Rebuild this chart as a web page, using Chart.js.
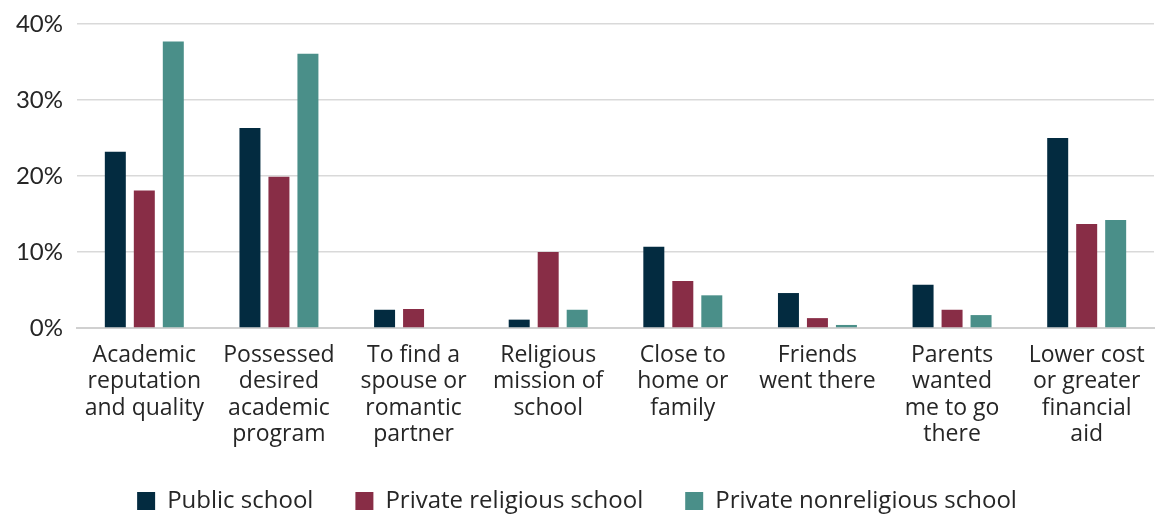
<!DOCTYPE html>
<html>
<head>
<meta charset="utf-8">
<script src="https://cdn.jsdelivr.net/npm/chart.js@4/dist/chart.umd.min.js"></script>
<style>
  html, body { margin: 0; padding: 0; background: #fff; }
  #wrap { width: 1167px; height: 514px; position: relative; }
</style>
</head>
<body>
<div id="wrap"><canvas id="schoolChart"></canvas></div>
<script>
const categories = [
    ["Academic", "reputation", "and quality"],
    ["Possessed", "desired", "academic", "program"],
    ["To find a", "spouse or", "romantic", "partner"],
    ["Religious", "mission of", "school"],
    ["Close to", "home or", "family"],
    ["Friends", "went there"],
    ["Parents", "wanted", "me to go", "there"],
    ["Lower cost", "or greater", "financial", "aid"]
];

const publicSchool = [23.2, 26.3, 2.4, 1.1, 10.7, 4.6, 5.7, 25.0];
const privateReligious = [18.1, 19.9, 2.5, 10.0, 6.2, 1.3, 2.4, 13.7];
const privateNonreligious = [37.7, 36.1, 0, 2.4, 4.3, 0.4, 1.7, 14.2];

const yTicks = [0, 10, 20, 30, 40];

new Chart(document.getElementById("schoolChart"), {
    type: "bar",
    data: {
        labels: categories,
        datasets: [
            { label: "Public school", data: publicSchool, backgroundColor: "#032b40" },
            { label: "Private religious school", data: privateReligious, backgroundColor: "#882d46" },
            { label: "Private nonreligious school", data: privateNonreligious, backgroundColor: "#4a8f89" }
        ]
    },
    options: {
        responsive: true,
        maintainAspectRatio: false,
        animation: false,
        layout: { padding: { left: 0, right: 13, top: 24, bottom: -9 } },
        datasets: {
            bar: { categoryPercentage: 0.646, barPercentage: 0.724 }
        },
        scales: {
            x: {
                afterFit: s => { s.height = 119; },
                grid: { display: false },
                border: { color: "#d0d0d0", width: 2 },
                ticks: {
                    color: "#262626",
                    font: { family: "Open Sans", size: 23, lineHeight: 1.15 },
                    maxRotation: 0,
                    autoSkip: false,
                    padding: 6
                }
            },
            y: {
                min: 0,
                max: 40,
                afterFit: s => { s.width = 77; s.paddingTop = 0; },
                afterBuildTicks: s => { s.ticks = yTicks.map(v => ({ value: v })); },
                grid: { color: "#d9d9d9", lineWidth: 1.5, drawTicks: false },
                border: { display: false },
                ticks: {
                    color: "#262626",
                    font: { family: "Lato", size: 24 },
                    padding: 14,
                    callback: v => v + "%"
                }
            }
        },
        plugins: {
            tooltip: { enabled: false },
            legend: {
                position: "bottom",
                labels: {
                    color: "#262626",
                    font: { family: "Open Sans", size: 24 },
                    boxWidth: 18,
                    boxHeight: 18,
                    padding: 42
                }
            }
        }
    }
});
</script>
</body>
</html>
